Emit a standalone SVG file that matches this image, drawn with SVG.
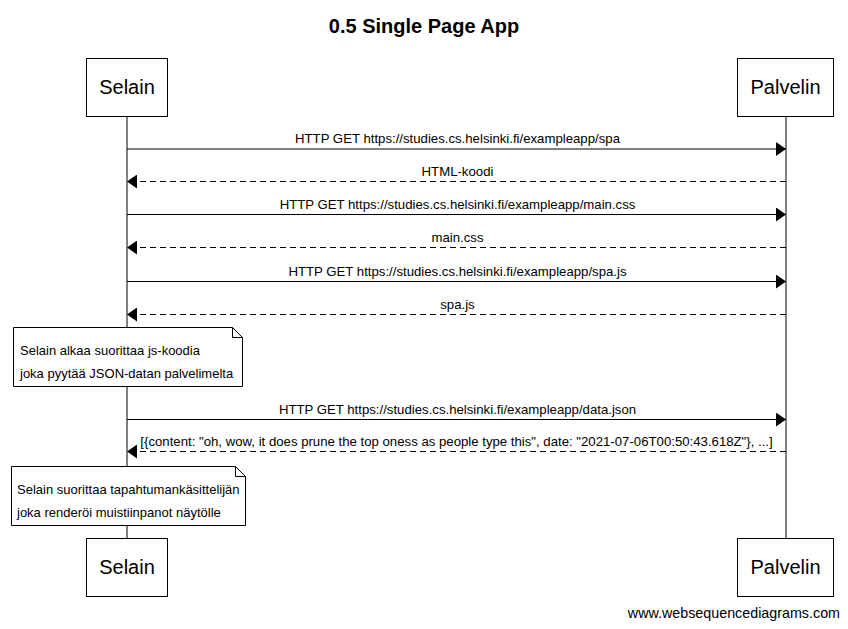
<svg xmlns="http://www.w3.org/2000/svg" width="848" height="629" viewBox="0 0 848 629">
<style>
text{font-family:"Liberation Sans",Arial,sans-serif;fill:#000}
.actor rect{fill:#fff;stroke:#000;stroke-width:1}
.actor text{font-size:20px;text-anchor:middle}
.life{stroke:#000;stroke-width:1}
.msg{stroke:#000;stroke-width:1;fill:none}
.dash{stroke-dasharray:6,4}
.lbl{font-size:13.2px;text-anchor:middle}
.note path{fill:#fff;stroke:#000;stroke-width:1}
.note text{font-size:13px}
</style>
<defs>
<marker id="ah" viewBox="0 0 10 14" refX="10" refY="7" markerWidth="10" markerHeight="14" markerUnits="userSpaceOnUse" orient="auto">
<path d="M0,0 L10,7 L0,14 Z" fill="#000"/>
</marker>
</defs>
<rect width="848" height="629" fill="#fff"/>
<text x="424" y="33" font-size="20" font-weight="bold" text-anchor="middle">0.5 Single Page App</text>
<g id="lifelines">
<line class="life" x1="127" y1="116" x2="127" y2="538"/>
<line class="life" x1="786" y1="116" x2="786" y2="538"/>
</g>
<g id="actor-selain-top" class="actor"><rect x="86.5" y="58.5" width="81" height="58"/><text x="127" y="94">Selain</text></g>
<g id="actor-palvelin-top" class="actor"><rect x="737.5" y="58.5" width="96" height="58"/><text x="785.5" y="94">Palvelin</text></g>
<g id="actor-selain-bottom" class="actor"><rect x="86.5" y="538.5" width="81" height="58"/><text x="127" y="574">Selain</text></g>
<g id="actor-palvelin-bottom" class="actor"><rect x="737.5" y="538.5" width="96" height="58"/><text x="785.5" y="574">Palvelin</text></g>
<g id="connectors">
<line class="msg" x1="127" y1="149" x2="786" y2="149" marker-end="url(#ah)"/>
<text class="lbl" x="457.5" y="143">HTTP GET https://studies.cs.helsinki.fi/exampleapp/spa</text>
<line class="msg dash" x1="786" y1="181.5" x2="127" y2="181.5" marker-end="url(#ah)"/>
<text class="lbl" x="457.5" y="176">HTML-koodi</text>
<line class="msg" x1="127" y1="214.5" x2="786" y2="214.5" marker-end="url(#ah)"/>
<text class="lbl" x="457.5" y="209">HTTP GET https://studies.cs.helsinki.fi/exampleapp/main.css</text>
<line class="msg dash" x1="786" y1="247.5" x2="127" y2="247.5" marker-end="url(#ah)"/>
<text class="lbl" x="457.5" y="242">main.css</text>
<line class="msg" x1="127" y1="281.5" x2="786" y2="281.5" marker-end="url(#ah)"/>
<text class="lbl" x="457.5" y="276">HTTP GET https://studies.cs.helsinki.fi/exampleapp/spa.js</text>
<line class="msg dash" x1="786" y1="314.5" x2="127" y2="314.5" marker-end="url(#ah)"/>
<text class="lbl" x="457.5" y="309">spa.js</text>
<line class="msg" x1="127" y1="419.5" x2="786" y2="419.5" marker-end="url(#ah)"/>
<text class="lbl" x="457.5" y="414">HTTP GET https://studies.cs.helsinki.fi/exampleapp/data.json</text>
<line class="msg dash" x1="786" y1="451.5" x2="127" y2="451.5" marker-end="url(#ah)"/>
<text class="lbl" x="456.5" y="446">[{content: "oh, wow, it does prune the top oness as people type this", date: "2021-07-06T00:50:43.618Z"}, ...]</text>
</g>
<g id="note1" class="note">
<path d="M13.5,327.5 H232.5 L242.5,337.5 V386.5 H13.5 Z M232.5,327.5 V337.5 H242.5"/>
<text x="20" y="355">Selain alkaa suorittaa js-koodia</text>
<text x="20" y="378">joka pyytää JSON-datan palvelimelta</text>
</g>
<g id="note2" class="note">
<path d="M11.5,466.5 H235.5 L245.5,476.5 V525.5 H11.5 Z M235.5,466.5 V476.5 H245.5"/>
<text x="17" y="494">Selain suorittaa tapahtumankäsittelijän</text>
<text x="17" y="517">joka renderöi muistiinpanot näytölle</text>
</g>
<text x="840" y="618" font-size="14.3" text-anchor="end">www.websequencediagrams.com</text>
</svg>
